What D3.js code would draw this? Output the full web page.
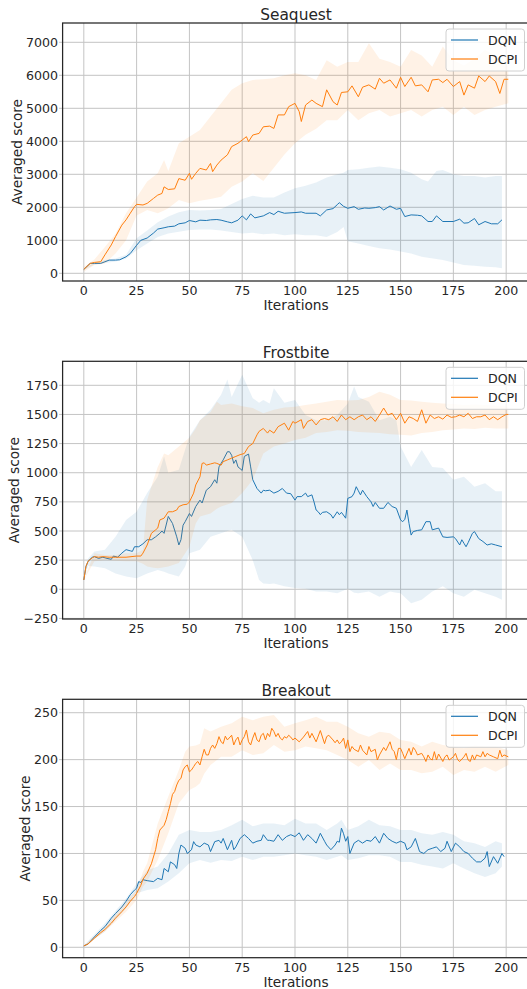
<!DOCTYPE html>
<html>
<head>
<meta charset="utf-8">
<script src="https://cdn.jsdelivr.net/npm/d3@7"></script>
<style>
  body { margin: 0; background: #fff; }
  text { font-family: "DejaVu Sans", sans-serif; fill: #262626; }
</style>
</head>
<body>
<svg width="527" height="989"></svg>
<script>
// tick labels
const xTicks = [0, 25, 50, 75, 100, 125, 150, 175, 200];
const seaquestTicks = [0, 1000, 2000, 3000, 4000, 5000, 6000, 7000];
const frostbiteTicks = [-250, 0, 250, 500, 750, 1000, 1250, 1500, 1750];
const breakoutTicks = [0, 50, 100, 150, 200, 250];
const methods = ['DQN', 'DCPI'];

// [iteration, averaged score]
const seaquestDQN = [[0,120],[3,300],[5,300],[8,300],[10,350],[12,400],[15,400],[17,410],[20,500],[22,600],[25,850],[27,1000],[30,1070],[33,1220],[35,1340],[38,1380],[40,1410],[43,1430],[45,1500],[48,1530],[50,1600],[53,1560],[55,1610],[58,1600],[60,1620],[63,1630],[65,1610],[68,1560],[70,1530],[73,1610],[75,1740],[77,1620],[79,1800],[81,1680],[85,1740],[88,1840],[90,1780],[92,1880],[95,1820],[100,1840],[103,1860],[105,1820],[110,1820],[112,1740],[115,1920],[118,1960],[120,2080],[121,2140],[123,2030],[125,1970],[128,2020],[130,1940],[133,1980],[135,1970],[138,1990],[140,2020],[142,1920],[145,2040],[148,1940],[150,1970],[152,1720],[155,1770],[158,1760],[160,1740],[163,1570],[165,1570],[167,1740],[170,1570],[175,1570],[178,1640],[180,1520],[182,1530],[185,1660],[187,1470],[190,1570],[193,1500],[196,1500],[198,1620]];
const seaquestDCPI = [[0,120],[3,300],[5,330],[8,350],[10,560],[13,860],[15,1110],[18,1460],[20,1620],[22,1820],[24,2020],[25,2090],[28,2070],[30,2120],[33,2270],[35,2370],[37,2420],[38,2620],[40,2540],[43,2560],[45,2870],[48,2820],[50,3030],[51,2850],[53,3030],[55,3180],[58,3130],[60,3330],[61,3080],[63,3280],[65,3430],[68,3590],[70,3840],[73,3940],[75,4040],[77,4140],[78,3990],[80,4190],[83,4240],[85,4440],[88,4460],[90,4390],[92,4800],[95,4800],[97,5050],[100,5150],[102,4900],[103,4600],[105,5100],[108,5250],[110,5150],[113,5050],[115,5560],[118,5200],[120,5100],[122,5480],[125,5500],[127,5680],[130,5350],[132,5640],[135,5710],[138,5580],[140,5910],[142,5760],[145,5860],[148,5610],[150,5940],[152,5660],[155,5940],[157,5680],[160,5710],[163,5500],[165,5860],[168,5880],[170,5780],[172,5880],[175,5660],[178,5810],[180,5400],[182,5710],[185,5610],[187,5980],[190,5810],[192,5980],[195,5810],[197,5450],[199,5880],[201,5880]];
// [iteration, low, high]
const seaquestDQNBand = [[0,100,140],[5,270,330],[10,310,400],[15,360,450],[20,440,560],[25,700,1060],[30,900,1300],[35,1100,1550],[40,1210,1720],[45,1260,1850],[50,1310,1920],[55,1330,1900],[60,1330,1920],[65,1300,1950],[70,1250,2100],[75,1210,2250],[80,1230,2350],[85,1180,2300],[90,1210,2300],[95,1150,2450],[100,1180,2580],[105,1150,2650],[110,1150,2750],[115,1100,2900],[120,1250,3000],[123,1400,3050],[125,970,3130],[130,900,3150],[135,830,3200],[140,760,3240],[145,720,3200],[150,660,3150],[155,600,3050],[160,500,2850],[163,470,2780],[167,430,3100],[170,400,3130],[175,330,3000],[180,250,2950],[185,230,2950],[190,200,2900],[195,180,2950],[198,150,2950]];
const seaquestDCPIBand = [[0,50,200],[5,250,420],[10,300,800],[15,600,1200],[20,1000,1820],[25,1750,2300],[30,1920,2780],[35,1820,3030],[38,1900,3430],[40,1970,3100],[45,2220,3940],[50,2120,4140],[55,2200,4340],[60,2250,4750],[65,2320,5150],[70,2620,5560],[75,2780,5760],[80,3030,5860],[85,2800,5880],[90,3200,5910],[95,3600,6000],[100,3940,6060],[105,4200,6000],[110,4380,5860],[115,4640,6460],[120,4640,6260],[125,4950,6400],[130,4640,6400],[135,4850,6970],[140,4950,6500],[145,4750,6400],[150,4850,6260],[155,4950,6770],[160,4750,6600],[165,4950,6260],[170,5050,6870],[175,4800,6460],[180,5050,6300],[185,4800,6500],[190,4950,6770],[195,5050,6600],[201,5150,6260]];

const frostbiteDQN = [[0,80],[1,195],[2,240],[4,275],[5,280],[7,265],[9,275],[11,265],[13,257],[14,285],[16,275],[18,310],[20,340],[22,330],[23,325],[24,365],[26,365],[28,390],[30,425],[32,425],[34,450],[36,480],[37,500],[38,480],[40,625],[42,565],[44,450],[45,380],[46,425],[47,550],[48,580],[50,650],[51,625],[53,710],[55,765],[56,740],[58,850],[60,880],[62,940],[63,910],[64,1050],[65,1080],[66,1110],[68,1180],[69,1180],[70,1150],[71,1080],[72,1110],[73,1050],[75,1020],[76,1140],[78,1160],[79,1050],[80,940],[82,865],[84,825],[85,850],[86,845],[88,850],[90,825],[92,840],[94,865],[96,825],[98,820],[100,765],[101,795],[103,795],[105,825],[106,795],[108,810],[109,750],[110,680],[111,665],[112,640],[113,660],[115,665],[117,640],[118,610],[120,665],[121,640],[122,660],[124,610],[125,780],[127,795],[128,825],[129,880],[130,845],[131,810],[132,850],[134,795],[136,750],[137,710],[138,745],[140,695],[142,695],[144,745],[146,710],[148,695],[150,595],[151,580],[152,600],[153,680],[154,565],[155,465],[156,495],[158,505],[160,510],[162,580],[164,580],[165,510],[168,525],[170,450],[172,445],[175,450],[176,435],[178,380],[179,425],[180,395],[181,365],[182,400],[184,480],[185,495],[187,435],[189,410],[191,380],[193,390],[195,380],[198,365]];
const frostbiteDCPI = [[0,80],[1,195],[2,240],[4,270],[5,280],[7,275],[9,280],[12,275],[15,275],[20,275],[25,285],[27,285],[28,310],[30,380],[32,480],[34,510],[35,525],[36,595],[38,610],[40,665],[42,665],[44,680],[45,710],[47,725],[49,730],[50,750],[52,825],[53,895],[55,965],[56,1080],[57,1085],[58,1065],[60,1075],[62,1085],[63,1080],[65,1065],[66,1095],[68,1110],[70,1125],[72,1140],[74,1155],[76,1165],[78,1225],[80,1250],[82,1325],[83,1355],[85,1380],[87,1340],[88,1365],[90,1340],[92,1395],[95,1425],[97,1365],[99,1440],[100,1425],[103,1455],[104,1380],[106,1440],[108,1455],[110,1410],[112,1455],[114,1465],[116,1455],[118,1480],[120,1440],[122,1495],[124,1455],[126,1480],[128,1455],[130,1480],[132,1495],[134,1455],[136,1480],[138,1440],[140,1495],[142,1555],[144,1495],[146,1510],[148,1455],[150,1510],[152,1425],[154,1480],[156,1465],[158,1440],[160,1540],[162,1425],[164,1495],[166,1465],[168,1480],[170,1460],[172,1495],[174,1475],[176,1480],[178,1495],[180,1480],[182,1510],[184,1465],[186,1480],[188,1480],[190,1495],[192,1455],[194,1480],[196,1455],[198,1480],[200,1500],[201,1500]];
const frostbiteDQNBand = [[0,80,80],[2,200,265],[5,195,325],[10,180,340],[15,135,450],[20,110,595],[25,95,665],[30,135,825],[35,165,965],[38,150,1140],[40,135,1000],[45,110,1025],[48,195,1200],[50,310,1310],[55,340,1450],[60,450,1540],[65,480,1670],[68,500,1800],[70,510,1650],[75,450,1840],[80,250,1640],[83,80,1600],[85,50,1625],[88,45,1595],[90,50,1725],[95,25,1600],[100,10,1625],[105,5,1495],[110,-20,1450],[115,-20,1450],[120,-35,1495],[125,5,1595],[128,-30,1740],[130,-35,1650],[135,-20,1610],[140,-65,1450],[145,-20,1480],[148,-30,1450],[150,-35,1225],[155,-120,1050],[160,-90,1195],[165,-20,1050],[170,25,1040],[175,-35,940],[180,-65,965],[185,-5,880],[190,-35,910],[195,-65,840],[198,-90,840]];
const frostbiteDCPIBand = [[0,80,80],[5,240,310],[10,250,295],[15,245,295],[20,240,310],[25,240,310],[28,220,340],[30,195,765],[33,185,940],[35,180,1050],[38,190,1165],[40,195,1150],[45,225,1225],[50,365,1300],[53,565,1380],[55,625,1450],[60,650,1520],[63,690,1610],[65,710,1580],[70,740,1595],[75,825,1570],[80,940,1555],[85,1165,1510],[90,1225,1540],[95,1250,1560],[100,1280,1565],[105,1300,1580],[110,1340,1595],[115,1350,1610],[120,1365,1625],[125,1360,1620],[130,1350,1625],[135,1345,1650],[140,1340,1695],[145,1330,1670],[150,1325,1625],[155,1320,1620],[160,1340,1610],[165,1350,1600],[170,1365,1595],[175,1370,1590],[180,1380,1580],[185,1375,1585],[190,1385,1580],[195,1380,1575],[201,1380,1565]];

const breakoutDQN = [[0,1.5],[2,3.5],[5,11],[8,18],[10,22],[13,31],[15,36],[18,43],[20,49],[22,56],[24,61],[25,63],[26,70],[27,69],[28,72],[30,71],[33,70],[35,73.5],[37,72],[38,84],[40,80.5],[41,91],[43,88],[44,84],[45,100],[46,109],[48,105.5],[49,100],[51,104],[52,112.6],[53,109],[55,107],[57,111],[59,109],[60,102],[62,112.6],[64,114],[65,111],[66,116],[68,104],[70,114],[71,104],[72,107],[74,116],[76,120],[78,116],[80,111],[82,113],[84,114],[85,120],[87,114],[88,114],[90,113],[92,120],[94,114],[96,118],[98,120],[100,118],[102,122],[104,114],[106,120],[108,116],[110,111],[112,121.5],[114,113],[115,109],[117,104],[119,109],[120,113],[121,112],[122,127],[123,121],[124,113],[125,118],[126,100],[128,111],[130,114],[132,111],[134,114],[136,113],[138,118],[140,111],[142,121.5],[144,116],[146,113],[148,111],[150,113],[152,111],[153,104],[155,107],[157,116],[159,102],[161,100],[163,104],[165,105.5],[167,107],[169,102],[171,105.5],[172,113],[174,102],[176,111],[178,107],[180,102],[182,100],[184,95],[186,91],[188,91],[190,95],[191,102],[192,86],[194,96.6],[196,89.5],[198,100],[199,96.6]];
const breakoutDCPI = [[0,1.5],[2,3.5],[5,9.6],[8,15.6],[10,19],[13,25.6],[15,31],[18,38],[20,43],[22,49],[24,54],[25,57.5],[27,66],[28,72.5],[30,79],[32,89],[34,104],[35,116],[36,125],[38,130],[39,136],[40,144.6],[41,153],[42,163],[43,166],[44,173],[45,178],[46,180],[47,189],[48,192.5],[49,194.3],[50,187],[51,189],[52,192.5],[53,196],[54,198],[55,194.3],[56,203],[57,211],[58,205],[59,205],[60,212],[61,215.6],[62,212],[63,217],[64,224.5],[65,219],[66,217],[67,225],[68,221],[70,226],[71,215.6],[72,221],[73,224],[74,215.6],[75,221],[76,224.5],[77,231.6],[78,219],[79,215.6],[80,223],[81,228.8],[82,221],[83,219],[84,226],[85,228],[86,221],[87,228],[88,224.5],[89,233.4],[90,230],[91,224.5],[92,228],[93,223],[94,221],[95,224.5],[96,223],[97,226],[98,224],[99,221],[100,223],[102,219],[104,224],[106,230],[107,223],[108,228],[110,219],[112,231],[114,217],[115,224.5],[116,226],[118,221],[119,218],[120,221],[121,217],[122,219],[123,223],[124,212],[125,221],[126,208.5],[127,214],[128,211],[130,208.5],[131,215.6],[132,210],[134,205],[135,214],[136,208.5],[138,211],[139,199.6],[140,205],[142,213],[143,209.6],[145,219],[146,211],[147,208.5],[148,200],[149,212],[150,212],[151,206.7],[152,201],[154,212],[155,205],[156,213],[157,210],[158,205],[160,206.7],[161,203],[162,198],[163,205],[164,201],[165,199.6],[166,208.5],[167,199.6],[168,206],[170,198],[171,203],[172,205],[173,199.6],[175,203],[176,206.7],[177,200],[178,198],[180,203],[181,206.7],[182,199.6],[183,198],[184,205],[185,199.6],[186,205],[188,203],[189,208.5],[190,203],[191,206.7],[192,205],[194,203],[196,201],[197,210],[198,203],[199,205],[201,203]];
const breakoutDQNBand = [[0,0.7,2],[10,16.7,25.6],[20,41.6,52],[25,57.5,68],[30,61,82],[35,63,86],[40,70,100],[45,79,120],[50,89.5,125],[55,93,123],[60,90,123],[65,93,125],[70,92,130],[75,96.6,136],[80,93,129],[85,96.6,132],[90,96.6,132],[95,98,130],[100,100,137],[105,98,132],[110,96.6,132],[115,93,125],[120,96.6,132],[122,98,136],[125,93,125],[130,95,129],[135,98,136],[140,98,130],[145,96.6,129],[150,91,125],[155,91,125],[160,88,121.5],[165,86,120],[170,84,123],[175,89.5,120],[180,84,113],[185,79,111],[190,75,107],[195,79,113],[198,86,111]];
const breakoutDCPIBand = [[0,0.7,2],[10,16.7,22],[20,38,49],[25,50.4,61],[28,64.6,80.6],[30,70,89.5],[35,93,132],[40,121.5,160.6],[45,153.5,189],[48,162,208.5],[50,167.7,214],[53,171,215],[55,174.8,217],[57,185,233.4],[60,194.3,230],[65,203,235],[70,203,238.7],[75,210,245.8],[80,205,242],[85,206.7,245.8],[90,215.6,247.6],[95,208.5,235],[100,210,238.7],[105,214,242],[110,212,245.8],[115,210,240.5],[120,205,240.5],[125,199.6,235],[130,192.5,228],[135,199.6,224.5],[140,189,229.8],[145,196,228],[150,189,221],[155,189,219],[160,185.4,214],[165,187,219],[170,192.5,215.6],[175,183.7,214],[180,189,212],[185,187,215],[190,192.5,214],[195,187,214],[201,194.3,210]];

const colors = ['#1f77b4', '#ff7f0e'];

const panels = [
  { title: 'Seaquest', top: 23, bottom: 281, domain: [-233, 7585], ticks: seaquestTicks, labelX: 17,
    series: [[seaquestDQNBand, seaquestDQN], [seaquestDCPIBand, seaquestDCPI]] },
  { title: 'Frostbite', top: 361.3, bottom: 619, domain: [-255, 1956], ticks: frostbiteTicks, labelX: 14,
    series: [[frostbiteDQNBand, frostbiteDQN], [frostbiteDCPIBand, frostbiteDCPI]] },
  { title: 'Breakout', top: 699.3, bottom: 957.7, domain: [-11.1, 264.3], ticks: breakoutTicks, labelX: 25,
    series: [[breakoutDQNBand, breakoutDQN], [breakoutDCPIBand, breakoutDCPI]] }
];

const svg = d3.select('svg');
const left = 62.6, right = 529.5;
const x = d3.scaleLinear().domain([-10.05, 211.05]).range([left, right]);
const fmt = (v) => String(v).replace('-', '\u2212');

panels.forEach((p) => {
  const y = d3.scaleLinear().domain(p.domain).range([p.bottom, p.top]);
  const g = svg.append('g');

  // grid
  g.selectAll('.gx').data(xTicks).enter().append('line')
    .attr('x1', (d) => x(d)).attr('x2', (d) => x(d))
    .attr('y1', p.top).attr('y2', p.bottom)
    .attr('stroke', '#c4c4c4').attr('stroke-width', 1);
  g.selectAll('.gy').data(p.ticks).enter().append('line')
    .attr('x1', left - 3.5).attr('x2', right)
    .attr('y1', (d) => y(d)).attr('y2', (d) => y(d))
    .attr('stroke', '#c4c4c4').attr('stroke-width', 1);

  // bands and lines
  const area = d3.area().x((d) => x(d[0])).y0((d) => y(d[1])).y1((d) => y(d[2]));
  const line = d3.line().x((d) => x(d[0])).y((d) => y(d[1]));
  p.series.forEach(([band, mean], i) => {
    g.append('path').datum(band).attr('d', area)
      .attr('fill', colors[i]).attr('fill-opacity', 0.1);
    g.append('path').datum(mean).attr('d', line)
      .attr('fill', 'none').attr('stroke', colors[i]).attr('stroke-width', 1)
      .attr('stroke-linejoin', 'round');
  });

  // frame
  g.append('rect').attr('x', left).attr('y', p.top)
    .attr('width', right - left).attr('height', p.bottom - p.top)
    .attr('fill', 'none').attr('stroke', '#262626').attr('stroke-width', 1.25);

  // tick labels
  g.selectAll('.tx').data(xTicks).enter().append('text')
    .attr('x', (d) => x(d)).attr('y', p.bottom + 14)
    .attr('text-anchor', 'middle').style('font-size', '12.6px').text((d) => d);
  g.selectAll('.ty').data(p.ticks).enter().append('text')
    .attr('x', left - 4.5).attr('y', (d) => y(d)).attr('dy', '0.36em')
    .attr('text-anchor', 'end').style('font-size', '12.6px').text(fmt);

  // labels
  g.append('text').attr('x', (left + right) / 2).attr('y', p.top - 3.5)
    .attr('text-anchor', 'middle').style('font-size', '15.4px').text(p.title);
  g.append('text').attr('x', (left + right) / 2).attr('y', p.bottom + 29)
    .attr('text-anchor', 'middle').style('font-size', '13.7px').text('Iterations');
  g.append('text')
    .attr('transform', `translate(${p.labelX},${(p.top + p.bottom) / 2}) rotate(-90)`)
    .attr('dy', '0.36em').attr('text-anchor', 'middle').style('font-size', '13.7px')
    .text('Averaged score');

  // legend
  const lg = g.append('g').attr('transform', `translate(446,${p.top + 6})`);
  lg.append('rect').attr('width', 78.5).attr('height', 42).attr('rx', 3)
    .attr('fill', '#fff').attr('fill-opacity', 0.8).attr('stroke', '#d0d0d0');
  methods.forEach((m, i) => {
    lg.append('line').attr('x1', 5).attr('x2', 32)
      .attr('y1', 11 + i * 19).attr('y2', 11 + i * 19)
      .attr('stroke', colors[i]).attr('stroke-width', 1.2);
    lg.append('text').attr('x', 42).attr('y', 11 + i * 19).attr('dy', '0.36em')
      .style('font-size', '12.6px').text(m);
  });
});
</script>
</body>
</html>
